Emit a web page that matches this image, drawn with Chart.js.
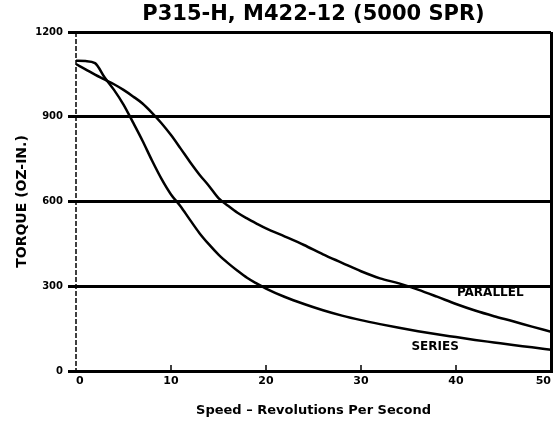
<!DOCTYPE html>
<html>
<head>
<meta charset="utf-8">
<script src="https://cdn.jsdelivr.net/npm/chart.js@4/dist/chart.umd.min.js"></script>
<style>
	body { margin: 0; background: #fff; }
	#wrap { width: 557px; height: 429px; }
</style>
</head>
<body>
<div id="wrap"><canvas id="torque-chart" width="557" height="429"></canvas></div>
<script>
//chart data
const speeds = [ 0, 1, 2, 3, 4, 5, 6, 7, 8, 9, 10, 11, 12, 13, 14, 15, 16, 17, 18, 19, 20, 22, 24, 26, 28, 30, 32, 34, 36, 38, 40, 42, 44, 46, 48, 50 ];
const seriesTorque = [ 1098, 1097, 1090, 1040, 995, 943, 880, 815, 745, 680, 625, 583, 535, 488, 448, 412, 382, 355, 330, 310, 292, 262, 237, 215, 196, 180, 166, 153, 141, 130, 120, 110, 101, 92, 84, 75 ];
const parallelTorque = [ 1086, 1068, 1049, 1032, 1015, 995, 972, 947, 914, 877, 835, 788, 740, 695, 655, 612, 585, 560, 540, 522, 505, 476, 446, 413, 383, 353, 328, 310, 288, 263, 237, 214, 194, 176, 157, 139 ];
const xTicks = [ 0, 10, 20, 30, 40, 50 ];
const yTicks = [ 0, 300, 600, 900, 1200 ];

//curve labels, in data units
const curveLabels = [
	{ text: 'PARALLEL', x: 43.6, y: 275 },
	{ text: 'SERIES', x: 37.8, y: 85 }
];

const font = 'DejaVu Sans';
const toPoints = (ys) => speeds.map((s, i) => ({ x: s, y: ys[i] }));

//title, inner tick marks, dashed left axis and curve labels
const extras = {
	id: 'extras',
	afterDraw(chart) {
		const c = chart.ctx;
		const area = chart.chartArea;
		const xs = chart.scales.x;
		const ys = chart.scales.y;
		c.save();
		c.fillStyle = '#000';
		c.textAlign = 'center';
		c.textBaseline = 'middle';
		c.font = 'bold 21px ' + font;
		c.fillText('P315-H, M422-12 (5000 SPR)', (area.left + area.right) / 2, 15);

		c.strokeStyle = '#000';
		c.lineWidth = 1.5;
		xTicks.slice(1, -1).forEach((v) => {
			const px = xs.getPixelForValue(v);
			c.beginPath();
			c.moveTo(px, area.bottom);
			c.lineTo(px, area.bottom - 6);
			c.stroke();
		});

		c.setLineDash([ 5, 2 ]);
		c.beginPath();
		c.moveTo(area.left, area.top);
		c.lineTo(area.left, area.bottom);
		c.stroke();
		c.setLineDash([]);

		c.font = 'bold 12px ' + font;
		curveLabels.forEach((l) => {
			c.fillText(l.text, xs.getPixelForValue(l.x), ys.getPixelForValue(l.y));
		});
		c.restore();
	}
};

const ctx = document.querySelector('#torque-chart').getContext('2d');
const torqueChart = new Chart(ctx, {
	type: 'line',
	data: {
		datasets: [
			{
				label: 'Series',
				data: toPoints(seriesTorque),
				borderColor: '#000',
				borderWidth: 2.5,
				pointRadius: 0,
				cubicInterpolationMode: 'monotone'
			},
			{
				label: 'Parallel',
				data: toPoints(parallelTorque),
				borderColor: '#000',
				borderWidth: 2.5,
				pointRadius: 0,
				cubicInterpolationMode: 'monotone'
			}
		]
	},
	options: {
		responsive: false,
		animation: false,
		layout: {
			padding: { top: 32, right: 6, left: 0, bottom: 0 }
		},
		plugins: {
			legend: { display: false },
			tooltip: { enabled: false }
		},
		scales: {
			x: {
				type: 'linear',
				min: 0,
				max: 50,
				afterFit: (scale) => { scale.height = 58; },
				afterBuildTicks: (scale) => { scale.ticks = xTicks.map((v) => ({ value: v })); },
				ticks: {
					align: 'inner',
					padding: 4,
					color: '#000',
					font: { family: font, size: 11, weight: 'bold' },
					callback: (v) => String(v)
				},
				grid: {
					drawTicks: false,
					color: (c) => (c.tick && c.tick.value === 50 ? '#000' : 'transparent'),
					lineWidth: 3
				},
				border: { display: true, color: '#000', width: 3 },
				title: {
					display: true,
					text: 'Speed – Revolutions Per Second',
					color: '#000',
					font: { family: font, size: 13, weight: 'bold' },
					padding: { top: 0, bottom: 11 }
				}
			},
			y: {
				min: 0,
				max: 1200,
				afterFit: (scale) => { scale.width = 76; },
				afterBuildTicks: (scale) => { scale.ticks = yTicks.map((v) => ({ value: v })); },
				ticks: {
					padding: 5,
					color: '#000',
					font: { family: font, size: 10, weight: 'bold' },
					callback: (v) => String(v)
				},
				grid: {
					color: '#000',
					lineWidth: 3,
					tickLength: 8
				},
				border: { display: false },
				title: {
					display: true,
					text: 'TORQUE (OZ-IN.)',
					color: '#000',
					font: { family: font, size: 14, weight: 'bold' },
					padding: { top: 14, bottom: 0 }
				}
			}
		}
	},
	plugins: [ extras ]
});
</script>
</body>
</html>
